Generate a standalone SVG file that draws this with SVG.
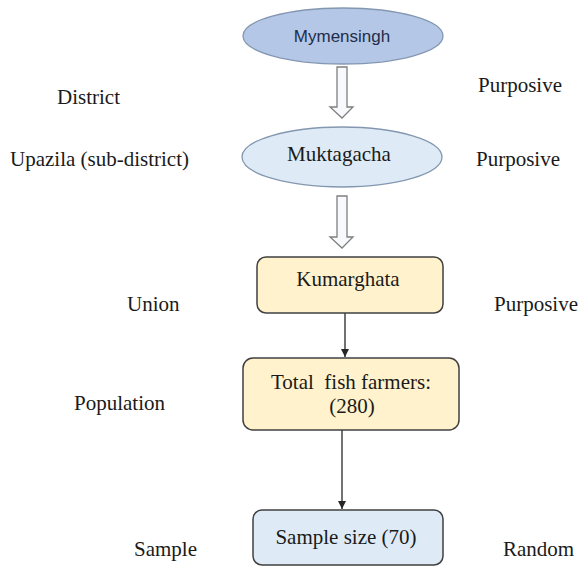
<svg xmlns="http://www.w3.org/2000/svg" width="579" height="566" viewBox="0 0 579 566">
<defs>
<style>
.lbl{font-family:'Liberation Serif','Times New Roman',serif;font-size:21px;fill:#1a1a1a}
.ntx{font-family:'Liberation Serif','Times New Roman',serif;font-size:21px;fill:#1a1a1a;text-anchor:middle}
.box{stroke:#404040;stroke-width:1.5}
.blk{fill:#f7f9fc;stroke:#7f7f7f;stroke-width:1.3}
.con{stroke:#262626;stroke-width:1.3;fill:none}
</style>
<marker id="ah" viewBox="0 0 10 10" refX="10" refY="5" markerWidth="8" markerHeight="8" markerUnits="userSpaceOnUse" orient="auto">
<path d="M0,0 L10,5 L0,10 z" fill="#262626"/>
</marker>
</defs>
<rect width="579" height="566" fill="#ffffff"/>
<g id="labels">
<text class="lbl" x="57" y="104">District</text>
<text class="lbl" x="10" y="166">Upazila (sub-district)</text>
<text class="lbl" x="127" y="311">Union</text>
<text class="lbl" x="74" y="410">Population</text>
<text class="lbl" x="134" y="556">Sample</text>
<text class="lbl" x="478" y="92">Purposive</text>
<text class="lbl" x="476" y="166">Purposive</text>
<text class="lbl" x="494" y="311">Purposive</text>
<text class="lbl" x="503" y="556">Random</text>
</g>
<g id="connectors">
<polygon class="blk" points="337,67 347,67 347,107 353,107 342,118 330,107 337,107"/>
<polygon class="blk" points="337,196 347,196 347,237 353,237 342,248 330,237 337,237"/>
<line class="con" x1="345" y1="313" x2="345" y2="357" marker-end="url(#ah)"/>
<line class="con" x1="342" y1="430" x2="342" y2="509" marker-end="url(#ah)"/>
</g>
<g id="node-mymensingh">
<ellipse cx="343" cy="36" rx="100" ry="28" fill="#b4c7e7" stroke="#8497b0" stroke-width="1.3"/>
<text x="342" y="42" text-anchor="middle" font-family="'Liberation Sans',Arial,sans-serif" font-size="17" fill="#1f2d4a">Mymensingh</text>
</g>
<g id="node-muktagacha">
<ellipse cx="342" cy="157" rx="100" ry="30" fill="#deebf7" stroke="#8497b0" stroke-width="1.3"/>
<text class="ntx" x="339" y="161">Muktagacha</text>
</g>
<g id="node-kumarghata">
<rect class="box" x="257" y="257" width="186" height="56" rx="9" fill="#fff2cc"/>
<text class="ntx" x="348" y="286">Kumarghata</text>
</g>
<g id="node-total">
<rect class="box" x="243" y="358" width="216" height="72" rx="10" fill="#fff2cc"/>
<text class="ntx" x="351" y="389" xml:space="preserve">Total  fish farmers:</text>
<text class="ntx" x="352" y="413">(280)</text>
</g>
<g id="node-sample">
<rect class="box" x="253" y="510" width="190" height="55" rx="9" fill="#deebf7"/>
<text class="ntx" x="346" y="544">Sample size (70)</text>
</g>
</svg>
